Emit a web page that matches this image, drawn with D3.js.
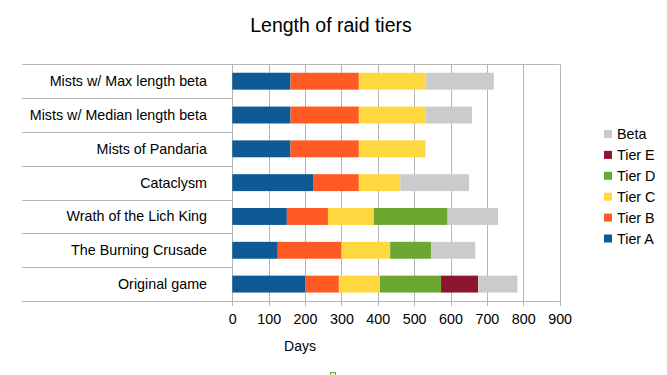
<!DOCTYPE html>
<html><head><meta charset="utf-8">
<script src="https://cdn.jsdelivr.net/npm/d3@7/dist/d3.min.js"></script>
<style>
html,body{margin:0;padding:0;background:#fff;}
svg{display:block;font-family:"Liberation Sans",Arial,Helvetica,sans-serif;}
</style></head>
<body>
<svg id="chart" width="667" height="375"></svg>
<script>
// Data (bottom to top, as in the chart)
const categories = ["Original game","The Burning Crusade","Wrath of the Lich King","Cataclysm","Mists of Pandaria","Mists w/ Median length beta","Mists w/ Max length beta"];
const tierA = [201,125,150,222,160,160,160];
const tierB = [92,175,113,126,188,188,188];
const tierC = [113,134,126,114,183,183,183];
const tierD = [168,113,203,0,0,0,0];
const tierE = [102,0,0,0,0,0,0];
const beta  = [108,121,139,189,0,128,188];
const seriesNames = ["Tier A","Tier B","Tier C","Tier D","Tier E","Beta"];
const seriesColors = ["#0f5a94","#ff5a23","#ffd840","#6aa832","#8e1531","#cbcbcb"];
const xTicks = [0,100,200,300,400,500,600,700,800,900];
const chartTitle = "Length of raid tiers";
const xTitle = "Days";

const seriesValues = [tierA,tierB,tierC,tierD,tierE,beta];
const rows = categories.map((c,i)=>{
  const o = {category:c};
  seriesNames.forEach((s,j)=>o[s]=seriesValues[j][i]);
  return o;
});

const svg = d3.select("#chart");
const pLeft = 232.3, pRight = 559.6, pTop = 64.3, pBottom = 301;
const x = d3.scaleLinear().domain([0,900]).range([pLeft,pRight]);
const y = d3.scaleBand().domain(categories.slice().reverse()).range([pTop,pBottom]).paddingInner(0.5).paddingOuter(0.25);
const bandStep = (pBottom-pTop)/categories.length;
const gridColor = "#b5b5b5";

// vertical gridlines
svg.append("g").selectAll("line").data(xTicks).join("line")
  .attr("x1",d=>Math.round(x(d))+0.5).attr("x2",d=>Math.round(x(d))+0.5)
  .attr("y1",pTop).attr("y2",pBottom+5)
  .attr("stroke",gridColor).attr("stroke-width",1);

// category separators
const seps = d3.range(categories.length+1).map(i=>pTop+i*bandStep);
svg.append("g").selectAll("line").data(seps).join("line")
  .attr("x1",22).attr("x2",(d,i)=> (i===0||i===categories.length)? pRight : pLeft)
  .attr("y1",d=>Math.round(d)+0.5).attr("y2",d=>Math.round(d)+0.5)
  .attr("stroke",gridColor).attr("stroke-width",1);

// stacked bars
const stack = d3.stack().keys(seriesNames)(rows);
svg.append("g").selectAll("g").data(stack).join("g")
  .attr("fill",(d,i)=>seriesColors[i])
  .selectAll("rect").data(d=>d.filter(p=>p[1]-p[0]>0)).join("rect")
  .attr("x",d=>x(d[0])).attr("width",d=>x(d[1])-x(d[0]))
  .attr("y",d=>y(d.data.category)).attr("height",y.bandwidth());

// x tick labels
const xAxis = d3.axisBottom(x).tickValues(xTicks).tickSize(0).tickPadding(0);
const gx = svg.append("g").attr("transform",`translate(0,${pBottom})`).call(xAxis);
gx.select(".domain").remove();
gx.selectAll("text").attr("y",22.5).attr("dy",null).attr("font-size",14.3)
  .attr("font-family","'Liberation Sans',Arial,sans-serif").attr("fill","#000");

// category labels
svg.append("g").selectAll("text").data(categories).join("text")
  .attr("x",207).attr("y",d=>y(d)+y.bandwidth()/2+5)
  .attr("text-anchor","end").attr("font-size",14.3).attr("fill","#000")
  .text(d=>d);

// title
svg.append("text").attr("x",331).attr("y",32).attr("text-anchor","middle")
  .attr("font-size",19.5).attr("fill","#000").text(chartTitle);
// axis title
svg.append("text").attr("x",300).attr("y",351).attr("text-anchor","middle")
  .attr("font-size",14).attr("fill","#000").text(xTitle);

// legend (Beta at top, Tier A at bottom)
const legendOrder = seriesNames.slice().reverse();
const lg = svg.append("g").selectAll("g").data(legendOrder).join("g")
  .attr("transform",(d,i)=>`translate(604,${134+i*20.9})`);
lg.append("rect").attr("x",0).attr("y",-4).attr("width",8).attr("height",8)
  .attr("fill",d=>seriesColors[seriesNames.indexOf(d)]);
lg.append("text").attr("x",13).attr("y",5).attr("font-size",14.3).attr("fill","#000").text(d=>d);

// small artifact at bottom
svg.append("rect").attr("x",330.5).attr("y",372.5).attr("width",5).attr("height",4)
  .attr("fill","#e8f3dc").attr("stroke","#6aa832").attr("stroke-width",1);
</script>
</body></html>
